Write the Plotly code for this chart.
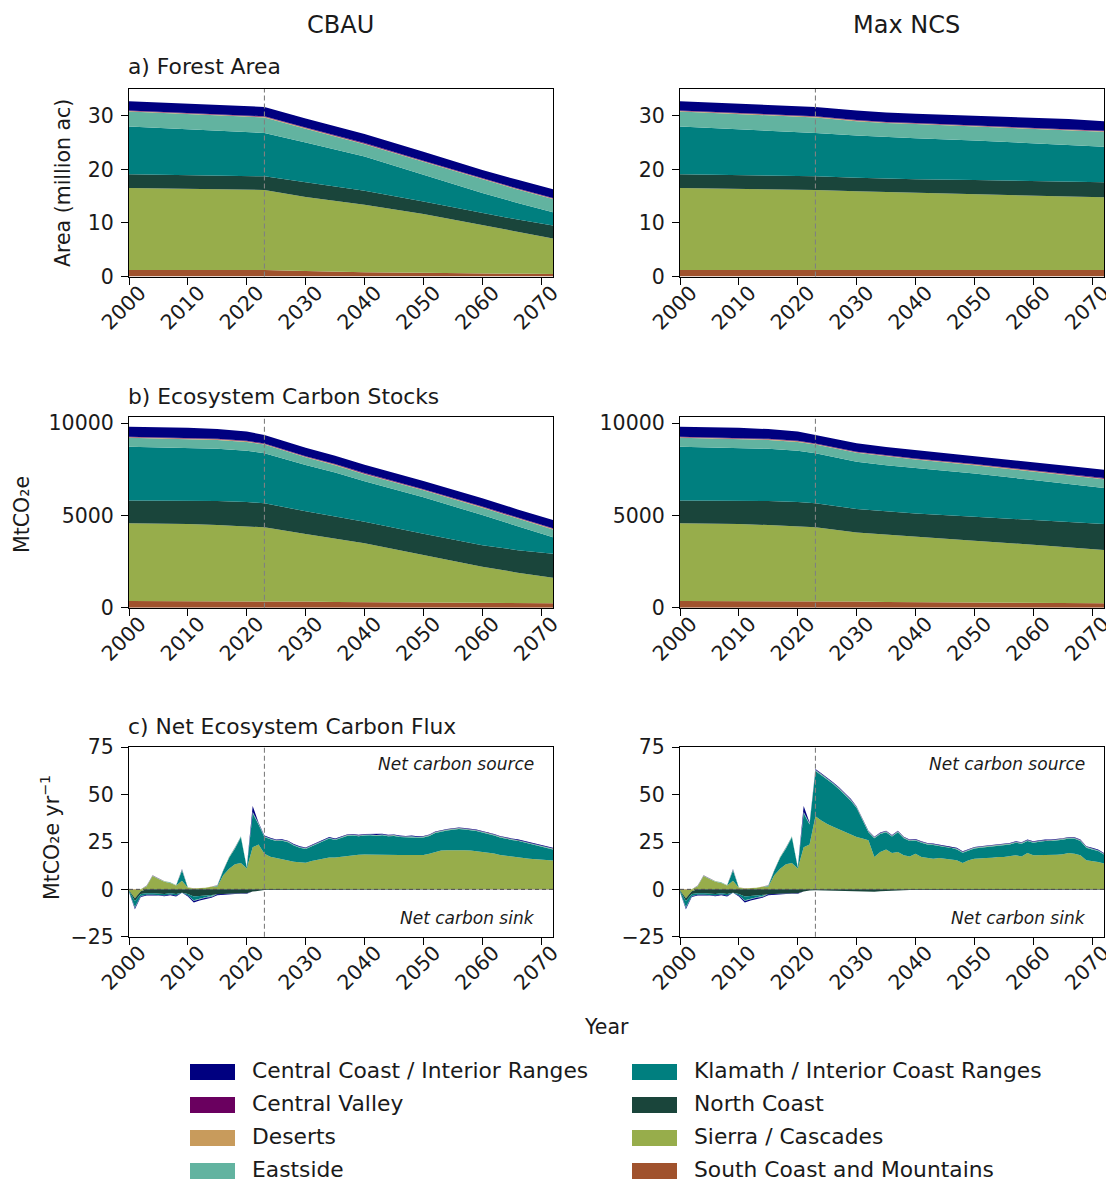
import plotly.graph_objects as go

# page has an 8px body margin, so the figure is drawn 8px in from the window edge
OFF = 8
W, H = 1114 - OFF, 1182 - OFF

# ---------------- data ----------------
regions = ["Central Coast / Interior Ranges", "Central Valley", "Deserts", "Eastside",
           "Klamath / Interior Coast Ranges", "North Coast", "Sierra / Cascades",
           "South Coast and Mountains"]
region_colors = ["#000080", "#6a005f", "#c89b5c", "#62b3a0",
                 "#007f7f", "#1a453b", "#97ad4b", "#a0522d"]
scenarios = ["CBAU", "Max NCS"]

# a) forest area, million ac
area_years = [2000, 2010, 2020, 2023, 2030, 2035, 2040, 2050, 2060, 2066, 2072]
area_cbau_ccoast = [1.7, 1.7, 1.72, 1.75, 1.7, 1.7, 1.7, 1.7, 1.6, 1.62, 1.65]
area_cbau_cvalley = [0.1, 0.1, 0.1, 0.1, 0.1, 0.1, 0.1, 0.1, 0.1, 0.1, 0.1]
area_cbau_deserts = [0.1, 0.1, 0.1, 0.1, 0.1, 0.1, 0.1, 0.1, 0.1, 0.1, 0.1]
area_cbau_eastside = [2.8, 2.85, 2.9, 2.9, 2.6, 2.45, 2.3, 2.4, 2.5, 2.5, 2.45]
area_cbau_klamath = [8.9, 8.55, 8.2, 8.1, 7.4, 6.9, 6.4, 5.0, 3.75, 3.1, 2.5]
area_cbau_ncoast = [2.6, 2.6, 2.55, 2.55, 2.75, 2.7, 2.6, 2.35, 2.25, 2.3, 2.4]
area_cbau_sierra = [15.3, 15.15, 15.0, 14.95, 13.8, 13.2, 12.6, 10.95, 9.0, 7.8, 6.65]
area_cbau_scoast = [1.2, 1.2, 1.2, 1.2, 1.05, 0.92, 0.8, 0.7, 0.6, 0.52, 0.45]

area_ncs_ccoast = [1.7, 1.7, 1.72, 1.75, 1.8, 1.75, 1.75, 1.8, 1.8, 1.8, 1.8]
area_ncs_cvalley = [0.1, 0.1, 0.1, 0.1, 0.1, 0.1, 0.1, 0.1, 0.1, 0.1, 0.1]
area_ncs_deserts = [0.1, 0.1, 0.1, 0.1, 0.1, 0.1, 0.1, 0.1, 0.1, 0.1, 0.1]
area_ncs_eastside = [2.8, 2.85, 2.9, 2.9, 2.7, 2.65, 2.65, 2.6, 2.7, 2.8, 2.8]
area_ncs_klamath = [8.9, 8.55, 8.2, 8.1, 7.85, 7.7, 7.65, 7.4, 7.05, 6.85, 6.6]
area_ncs_ncoast = [2.6, 2.6, 2.55, 2.55, 2.55, 2.55, 2.55, 2.65, 2.75, 2.8, 2.8]
area_ncs_sierra = [15.3, 15.15, 15.0, 14.95, 14.7, 14.55, 14.4, 14.15, 13.9, 13.75, 13.6]
area_ncs_scoast = [1.2, 1.2, 1.2, 1.2, 1.2, 1.2, 1.2, 1.2, 1.2, 1.2, 1.2]

# b) ecosystem carbon stocks, MtCO2e
stock_years = [2000, 2010, 2015, 2020, 2023, 2030, 2035, 2040, 2050, 2060, 2066, 2072]
stock_cbau_ccoast = [540, 540, 525, 500, 460, 455, 455, 450, 450, 455, 450, 450]
stock_cbau_cvalley = [30, 30, 30, 30, 30, 30, 30, 30, 30, 30, 30, 30]
stock_cbau_deserts = [30, 30, 30, 30, 30, 30, 30, 30, 30, 30, 30, 30]
stock_cbau_eastside = [480, 480, 480, 480, 480, 420, 400, 380, 380, 400, 420, 430]
stock_cbau_klamath = [2910, 2870, 2840, 2780, 2710, 2505, 2385, 2200, 1979, 1633, 1280, 889]
stock_cbau_ncoast = [1245, 1270, 1300, 1320, 1300, 1240, 1205, 1170, 1150, 1170, 1220, 1300]
stock_cbau_sierra = [4205, 4170, 4115, 4048, 4000, 3660, 3425, 3190, 2576, 1962, 1650, 1388]
stock_cbau_scoast = [370, 370, 365, 362, 360, 330, 315, 300, 280, 260, 250, 238]

stock_ncs_ccoast = [540, 540, 525, 500, 460, 450, 450, 455, 450, 450, 450, 450]
stock_ncs_cvalley = [30, 30, 30, 30, 30, 30, 30, 30, 30, 30, 30, 30]
stock_ncs_deserts = [30, 30, 30, 30, 30, 30, 30, 30, 30, 30, 30, 30]
stock_ncs_eastside = [480, 480, 480, 480, 480, 490, 480, 460, 450, 480, 480, 480]
stock_ncs_klamath = [2910, 2870, 2840, 2780, 2710, 2563, 2500, 2461, 2347, 2167, 2055, 1952]
stock_ncs_ncoast = [1245, 1270, 1300, 1320, 1300, 1270, 1260, 1247, 1301, 1338, 1375, 1409]
stock_ncs_sierra = [4205, 4170, 4115, 4048, 4000, 3750, 3645, 3564, 3351, 3155, 3020, 2892]
stock_ncs_scoast = [370, 370, 365, 362, 360, 330, 315, 300, 280, 260, 250, 235]

# c) net ecosystem carbon flux, MtCO2e/yr (positive = source)
hist_years = list(range(2000, 2023))
proj_years = list(range(2023, 2073))

hist_ccoast = [-0.1, -0.6, -0.4, -0.4, -0.5, -0.4, -0.5, -0.4, -0.5, 0.3, -0.5, -0.8,
               -0.7, -0.6, -0.5, -0.5, -0.4, -0.4, -0.3, -0.3, -0.3, 3.0, 0.4]
hist_cvalley = [0.0, 0.0, 0.05, 0.05, 0.05, 0.05, 0.05, 0.05, 0.05, 0.05, 0.05, 0.05,
                0.05, 0.05, 0.05, 0.05, 0.05, 0.05, 0.05, 0.05, 0.05, 0.1, 0.05]
hist_deserts = [0.0, 0.0, 0.05, 0.05, 0.05, 0.05, 0.05, 0.05, 0.05, 0.05, 0.05, 0.05,
                0.05, 0.05, 0.05, 0.05, 0.05, 0.05, 0.05, 0.05, 0.05, 0.1, 0.05]
hist_eastside = [-0.1, -0.4, -0.2, 0.3, 0.3, 0.3, 0.3, 0.3, 0.2, 0.4, 0.2, -0.3,
                 -0.2, -0.2, -0.2, 0.2, 0.3, 0.4, 0.5, 0.5, 0.4, 0.6, 0.6]
hist_klamath = [-0.5, -3.3, -1.0, -0.8, -0.8, -0.7, -0.8, -0.7, -0.8, 5.5, -0.8, -2.0,
                -1.5, -1.2, -1.0, 0.3, 2.4, 5.8, 8.4, 13.6, 0.4, 18.0, 10.5]
hist_ncoast = [-0.3, -1.5, -1.5, -2.0, -2.0, -2.2, -2.4, -2.0, -2.5, -1.8, -2.5, -3.8,
               -3.5, -3.0, -2.8, -2.6, -2.4, -2.3, -2.2, -2.0, -2.0, -1.2, -0.6]
hist_sierra = [-0.5, -4.5, -1.0, 1.5, 6.8, 5.2, 3.8, 3.2, 1.8, 4.3, 0.6, 0.3,
               0.3, 0.6, 1.2, 1.3, 7.2, 10.7, 13.0, 13.7, 10.8, 22.0, 23.5]
hist_scoast = [0.0, -0.2, 0.0, 0.1, 0.2, 0.2, 0.2, 0.2, 0.2, 0.2, 0.2, 0.2,
               0.2, 0.2, 0.2, 0.2, 0.2, 0.2, 0.2, 0.2, 0.2, 0.2, 0.2]

proj_cbau_ccoast = [0.3, 0.3, 0.3, 0.3, 0.3, 0.3, 0.3, 0.3, 0.3, 0.3,
                    0.3, 0.3, 0.3, 0.3, 0.3, 0.3, 0.3, 0.3, 0.3, 0.3,
                    0.3, 0.3, 0.3, 0.3, 0.3, 0.3, 0.3, 0.3, 0.3, 0.3,
                    0.3, 0.3, 0.3, 0.3, 0.3, 0.3, 0.3, 0.3, 0.3, 0.3,
                    0.3, 0.3, 0.3, 0.3, 0.3, 0.3, 0.3, 0.3, 0.3, 0.3]
proj_cbau_eastside = [0.4, 0.4, 0.4, 0.4, 0.4, 0.4, 0.4, 0.4, 0.4, 0.4,
                      0.4, 0.4, 0.4, 0.4, 0.4, 0.4, 0.4, 0.4, 0.4, 0.4,
                      0.4, 0.4, 0.4, 0.4, 0.4, 0.4, 0.4, 0.4, 0.4, 0.4,
                      0.4, 0.4, 0.4, 0.4, 0.4, 0.4, 0.4, 0.4, 0.4, 0.4,
                      0.4, 0.4, 0.4, 0.4, 0.4, 0.4, 0.4, 0.4, 0.4, 0.4]
proj_cbau_klamath = [8.8, 9.2, 9.1, 10.0, 9.7, 8.5, 7.7, 7.3, 7.6, 8.5,
                     9.0, 10.0, 9.2, 9.8, 10.4, 10.3, 9.7, 10.0, 10.1, 9.7,
                     10.1, 9.5, 9.9, 9.4, 9.3, 9.4, 9.0, 9.2, 9.4, 10.1,
                     10.1, 10.4, 10.7, 11.0, 10.9, 10.8, 10.6, 10.2, 9.9, 9.5,
                     9.2, 8.9, 8.9, 8.7, 8.3, 7.8, 7.3, 6.8, 6.4, 5.9]
proj_cbau_ncoast = [-0.4, -0.3, -0.3, -0.4, -0.3, -0.3, -0.4, -0.4, -0.3, -0.3,
                    -0.3, -0.2, -0.3, -0.3, -0.2, -0.2, -0.3, -0.2, -0.2, -0.2,
                    -0.2, -0.2, -0.2, -0.2, -0.2, -0.2, -0.1, -0.2, -0.1, -0.1,
                    -0.1, -0.1, -0.1, -0.1, -0.1, -0.1, -0.1, -0.1, -0.1, -0.1,
                    -0.1, -0.1, -0.1, -0.1, -0.1, -0.1, -0.1, -0.1, -0.1, -0.1]
proj_cbau_sierra = [18.6, 17.0, 16.2, 15.4, 15.0, 14.4, 14.0, 13.8, 14.8, 15.5,
                    16.0, 16.6, 16.6, 17.0, 17.6, 17.9, 18.1, 18.2, 18.2, 18.3,
                    18.2, 18.3, 18.1, 18.0, 17.9, 18.0, 18.0, 18.0, 18.6, 19.5,
                    20.3, 20.5, 20.6, 20.7, 20.5, 20.3, 20.0, 19.6, 19.3, 18.7,
                    18.0, 17.5, 17.0, 16.7, 16.3, 16.0, 15.7, 15.5, 15.2, 15.0]

proj_ncs_ccoast = [0.5, 0.4, 0.4, 0.4, 0.4, 0.4, 0.4, 0.3, 0.3, 0.3,
                   0.3, 0.3, 0.3, 0.3, 0.3, 0.3, 0.3, 0.3, 0.3, 0.3,
                   0.3, 0.3, 0.3, 0.3, 0.3, 0.3, 0.3, 0.3, 0.3, 0.3,
                   0.3, 0.3, 0.3, 0.3, 0.3, 0.3, 0.3, 0.3, 0.3, 0.3,
                   0.3, 0.3, 0.3, 0.3, 0.3, 0.3, 0.3, 0.3, 0.3, 0.3]
proj_ncs_eastside = [0.5, 0.5, 0.5, 0.5, 0.5, 0.5, 0.5, 0.5, 0.4, 0.4,
                     0.4, 0.4, 0.4, 0.4, 0.4, 0.4, 0.4, 0.4, 0.4, 0.4,
                     0.4, 0.4, 0.4, 0.4, 0.4, 0.4, 0.4, 0.4, 0.4, 0.4,
                     0.4, 0.4, 0.4, 0.4, 0.4, 0.4, 0.4, 0.4, 0.4, 0.4,
                     0.4, 0.4, 0.4, 0.4, 0.4, 0.4, 0.4, 0.4, 0.4, 0.4]
proj_ncs_klamath = [23.9, 23.9, 23.5, 22.5, 21.2, 19.6, 17.9, 15.3, 9.6, 4.3,
                    9.9, 9.5, 9.2, 8.7, 10.5, 9.0, 8.1, 7.0, 7.5, 7.0,
                    7.2, 6.3, 6.3, 6.3, 5.8, 5.4, 5.3, 5.4, 5.8, 5.8,
                    6.1, 5.7, 6.3, 6.3, 6.6, 6.7, 6.3, 6.6, 7.1, 7.5,
                    7.5, 7.5, 7.7, 7.7, 7.9, 7.5, 6.7, 6.1, 5.8, 4.8]
proj_ncs_ncoast = [-0.5, -0.6, -0.6, -0.7, -0.7, -0.8, -0.8, -0.9, -1.0, -1.2,
                   -1.3, -1.0, -0.8, -0.6, -0.5, -0.5, -0.4, -0.4, -0.4, -0.3,
                   -0.3, -0.3, -0.3, -0.3, -0.3, -0.3, -0.3, -0.2, -0.2, -0.2,
                   -0.2, -0.2, -0.2, -0.2, -0.2, -0.2, -0.2, -0.2, -0.2, -0.2,
                   -0.2, -0.2, -0.2, -0.2, -0.2, -0.2, -0.2, -0.2, -0.2, -0.2]
proj_ncs_sierra = [38.4, 36.2, 34.3, 32.9, 31.5, 30.1, 28.7, 27.4, 26.6, 25.7,
                   16.9, 19.5, 20.8, 19.0, 19.5, 17.8, 17.2, 18.6, 16.9, 16.5,
                   16.0, 16.3, 15.8, 15.5, 15.1, 13.7, 15.1, 16.0, 16.0, 16.3,
                   16.5, 16.9, 16.9, 17.2, 17.8, 17.2, 19.0, 17.8, 17.8, 17.8,
                   17.8, 18.1, 18.3, 19.0, 18.6, 17.8, 15.1, 14.8, 14.2, 13.4]

# tiny regions, same in both projections
proj_cvalley = [0.05, 0.05, 0.05, 0.05, 0.05, 0.05, 0.05, 0.05, 0.05, 0.05,
                0.05, 0.05, 0.05, 0.05, 0.05, 0.05, 0.05, 0.05, 0.05, 0.05,
                0.05, 0.05, 0.05, 0.05, 0.05, 0.05, 0.05, 0.05, 0.05, 0.05,
                0.05, 0.05, 0.05, 0.05, 0.05, 0.05, 0.05, 0.05, 0.05, 0.05,
                0.05, 0.05, 0.05, 0.05, 0.05, 0.05, 0.05, 0.05, 0.05, 0.05]
proj_deserts = [0.05, 0.05, 0.05, 0.05, 0.05, 0.05, 0.05, 0.05, 0.05, 0.05,
                0.05, 0.05, 0.05, 0.05, 0.05, 0.05, 0.05, 0.05, 0.05, 0.05,
                0.05, 0.05, 0.05, 0.05, 0.05, 0.05, 0.05, 0.05, 0.05, 0.05,
                0.05, 0.05, 0.05, 0.05, 0.05, 0.05, 0.05, 0.05, 0.05, 0.05,
                0.05, 0.05, 0.05, 0.05, 0.05, 0.05, 0.05, 0.05, 0.05, 0.05]
proj_scoast = [0.2, 0.2, 0.2, 0.2, 0.2, 0.2, 0.2, 0.2, 0.2, 0.2,
               0.2, 0.2, 0.2, 0.2, 0.2, 0.2, 0.2, 0.2, 0.2, 0.2,
               0.2, 0.2, 0.2, 0.2, 0.2, 0.2, 0.2, 0.2, 0.2, 0.2,
               0.2, 0.2, 0.2, 0.2, 0.2, 0.2, 0.2, 0.2, 0.2, 0.2,
               0.2, 0.2, 0.2, 0.2, 0.2, 0.2, 0.2, 0.2, 0.2, 0.2]

# ------------- assemble panels (region order = legend order) -------------
area = {
    "CBAU": [area_cbau_ccoast, area_cbau_cvalley, area_cbau_deserts, area_cbau_eastside,
             area_cbau_klamath, area_cbau_ncoast, area_cbau_sierra, area_cbau_scoast],
    "Max NCS": [area_ncs_ccoast, area_ncs_cvalley, area_ncs_deserts, area_ncs_eastside,
                area_ncs_klamath, area_ncs_ncoast, area_ncs_sierra, area_ncs_scoast],
}
stock = {
    "CBAU": [stock_cbau_ccoast, stock_cbau_cvalley, stock_cbau_deserts, stock_cbau_eastside,
             stock_cbau_klamath, stock_cbau_ncoast, stock_cbau_sierra, stock_cbau_scoast],
    "Max NCS": [stock_ncs_ccoast, stock_ncs_cvalley, stock_ncs_deserts, stock_ncs_eastside,
                stock_ncs_klamath, stock_ncs_ncoast, stock_ncs_sierra, stock_ncs_scoast],
}
hist_flux = [hist_ccoast, hist_cvalley, hist_deserts, hist_eastside,
             hist_klamath, hist_ncoast, hist_sierra, hist_scoast]
proj_flux = {
    "CBAU": [proj_cbau_ccoast, proj_cvalley, proj_deserts, proj_cbau_eastside,
             proj_cbau_klamath, proj_cbau_ncoast, proj_cbau_sierra, proj_scoast],
    "Max NCS": [proj_ncs_ccoast, proj_cvalley, proj_deserts, proj_ncs_eastside,
                proj_ncs_klamath, proj_ncs_ncoast, proj_ncs_sierra, proj_scoast],
}
flux_years = hist_years + proj_years
flux = {s: [h + p for h, p in zip(hist_flux, proj_flux[s])] for s in scenarios}

# ------------- figure -------------
FONT = "DejaVu Sans"
TXT = "#1a1a1a"


def px(x):
    return (x - OFF) / W


def py(y):
    return 1 - (y - OFF) / H


col_px = [(129, 553), (680, 1104)]
row_px = [(89, 276.5), (417.3, 607.7), (747.3, 936.7)]
y_ranges = [[0, 35], [0, 10325], [-25, 75]]
y_ticks = [[0, 10, 20, 30], [0, 5000, 10000], [-25, 0, 25, 50, 75]]

fig = go.Figure()
layout = {}
shapes = []
annotations = []


def add_stack(xs, series, xa, ya, group):
    # matplotlib stackplot order: last legend entry at the bottom
    for i in reversed(range(len(regions))):
        fig.add_trace(go.Scatter(
            x=xs, y=series[i], xaxis=xa, yaxis=ya, stackgroup=group,
            mode="lines", line=dict(width=0, color=region_colors[i]),
            fillcolor=region_colors[i], showlegend=False, hoverinfo="skip"))


for r in range(3):
    for c, scen in enumerate(scenarios):
        k = r * 2 + c + 1
        xa = "x" if k == 1 else f"x{k}"
        ya = "y" if k == 1 else f"y{k}"
        x0, x1 = col_px[c]
        yt, yb = row_px[r]
        layout["xaxis" if k == 1 else f"xaxis{k}"] = dict(
            domain=[px(x0), px(x1)], anchor=ya, range=[2000, 2072],
            tickvals=[2000, 2010, 2020, 2030, 2040, 2050, 2060, 2070],
            tickangle=-45, ticks="outside", ticklen=7, tickwidth=1.2, tickcolor="black",
            ticklabelshift=11, ticklabelstandoff=-12, ticklabeloverflow="allow",
            showline=True, linecolor="black", linewidth=1.2, mirror=True,
            showgrid=False, zeroline=False,
            tickfont=dict(family=FONT, size=20.5, color=TXT))
        layout["yaxis" if k == 1 else f"yaxis{k}"] = dict(
            domain=[py(yb), py(yt)], anchor=xa, range=y_ranges[r],
            tickvals=y_ticks[r], tickformat="d",
            ticks="outside", ticklen=7, tickwidth=1.2, tickcolor="black",
            ticklabelstandoff=3, ticklabeloverflow="allow",
            showline=True, linecolor="black", linewidth=1.2, mirror=True,
            showgrid=False, zeroline=False,
            tickfont=dict(family=FONT, size=20.5, color=TXT))

        if r == 0:
            add_stack(area_years, area[scen], xa, ya, f"area{c}")
        elif r == 1:
            add_stack(stock_years, stock[scen], xa, ya, f"stock{c}")
        else:
            pos = [[v if v > 0 else 0 for v in s] for s in flux[scen]]
            neg = [[v if v < 0 else 0 for v in s] for s in flux[scen]]
            add_stack(flux_years, pos, xa, ya, f"pos{c}")
            add_stack(flux_years, neg, xa, ya, f"neg{c}")
            shapes.append(dict(type="line", xref=f"{xa} domain", yref=ya, x0=0, x1=1,
                               y0=0, y1=0, line=dict(color="#4d4d4d", width=1, dash="4px,3px")))
            annotations.append(dict(x=px(x1 - 17), y=py(764), xref="paper", yref="paper",
                                    text="<i>Net carbon source</i>", showarrow=False,
                                    xanchor="right", yanchor="middle",
                                    font=dict(family=FONT, size=17, color=TXT)))
            annotations.append(dict(x=px(x1 - 16), y=py(918), xref="paper", yref="paper",
                                    text="<i>Net carbon sink</i>", showarrow=False,
                                    xanchor="right", yanchor="middle",
                                    font=dict(family=FONT, size=17, color=TXT)))
        # start of projection period
        shapes.append(dict(type="line", xref=xa, yref=f"{ya} domain", x0=2023, x1=2023,
                           y0=0, y1=1, line=dict(color="#808080", width=1.1, dash="5px,3px")))


def text(x, y, s, size, anchor="center", angle=0):
    annotations.append(dict(x=px(x), y=py(y), xref="paper", yref="paper", text=s,
                            showarrow=False, xanchor=anchor, yanchor="middle",
                            textangle=angle, borderpad=0,
                            font=dict(family=FONT, size=size, color=TXT)))


text(340, 25, "CBAU", 24)
text(906, 25, "Max NCS", 24)
text(127, 67, "a) Forest Area", 21.8, "left")
text(127, 396, "b) Ecosystem Carbon Stocks", 21.8, "left")
text(127, 726, "c) Net Ecosystem Carbon Flux", 21.8, "left")
text(63, 183, "Area (million ac)", 20.5, angle=-90)
text(22, 515, "MtCO₂e", 20.5, angle=-90)
text(50, 838, "MtCO₂e yr<sup>−1</sup>", 20.5, angle=-90)
text(606, 1027, "Year", 20.5)

# legend: two columns, filled down each column
for i, name in enumerate(regions):
    col, row = divmod(i, 4)
    lx = 190 + col * 442
    ly = 1072 + row * 33
    shapes.append(dict(type="rect", xref="paper", yref="paper",
                       x0=px(lx), x1=px(lx + 45), y0=py(ly + 8), y1=py(ly - 8),
                       fillcolor=region_colors[i], line=dict(width=0)))
    text(lx + 61, ly - 2, name, 21.8, "left")

fig.update_layout(width=W, height=H, autosize=False,
                  margin=dict(l=0, r=0, t=0, b=0, autoexpand=False),
                  paper_bgcolor="white", plot_bgcolor="white",
                  showlegend=False, shapes=shapes, annotations=annotations,
                  **layout)

fig.write_html("out.html")
